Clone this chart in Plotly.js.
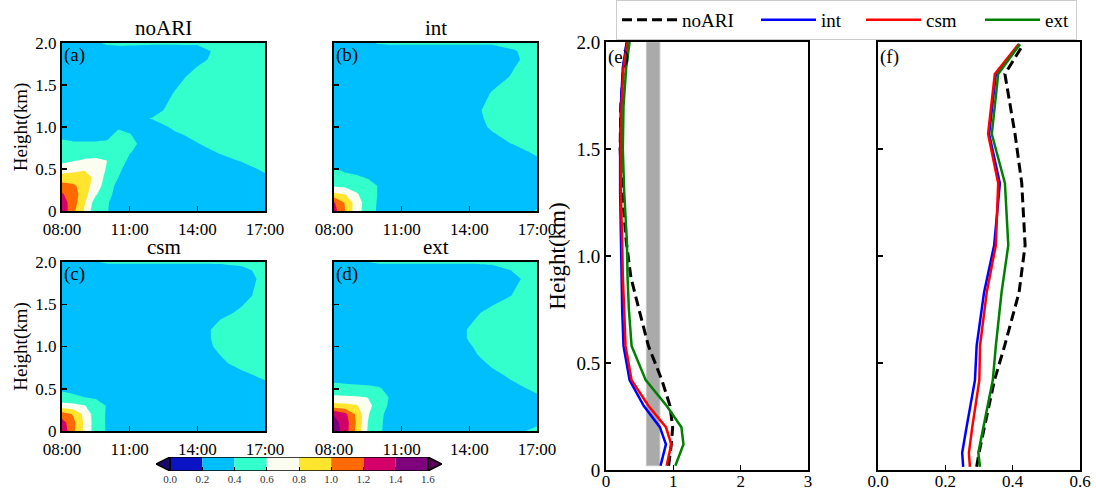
<!DOCTYPE html>
<html><head><meta charset="utf-8">
<script src="https://cdn.plot.ly/plotly-3.0.1.min.js"></script>
<style>html,body{margin:0;padding:0;background:#fff}#chart{width:1096px;height:493px}</style>
</head><body><div id="chart"></div>
<script>
// ---------- contour grids ----------
const timeHours = [8, 8.5, 9, 9.5, 10, 10.5, 11, 12, 13, 14, 15, 16, 17];
const heightKm = [0, 0.1, 0.2, 0.3, 0.4, 0.5, 0.6, 0.7, 0.8, 0.9, 1.0, 1.1, 1.2, 1.4, 1.6, 1.8, 1.9, 2.0];
const timeTickVals = [8, 11, 14, 17];
const timeTickText = ['08:00', '11:00', '14:00', '17:00'];
const heightTickVals = [0, 0.5, 1, 1.5, 2];
const heightTickText = ['0', '0.5', '1.0', '1.5', '2.0'];

const levels = [0, 0.2, 0.4, 0.6, 0.8, 1.0, 1.2, 1.4, 1.6];
const levelColors = ['#1b0a6e', '#0a14c4', '#00bfff', '#33ffcc', '#fbfdf0', '#ffe52e', '#ff6a00', '#d4006a', '#7e007e', '#5a005a'];

const zNoARI = [
  [1.35, 1.05, 0.78, 0.44, 0.41, 0.30, 0.28, 0.27, 0.27, 0.28, 0.30, 0.32, 0.34],
  [1.30, 1.10, 0.82, 0.50, 0.42, 0.30, 0.28, 0.27, 0.27, 0.28, 0.30, 0.33, 0.35],
  [1.22, 1.10, 0.88, 0.62, 0.46, 0.33, 0.29, 0.27, 0.28, 0.29, 0.31, 0.34, 0.36],
  [1.08, 1.04, 0.90, 0.70, 0.50, 0.34, 0.30, 0.28, 0.28, 0.29, 0.32, 0.35, 0.37],
  [0.88, 0.88, 0.87, 0.76, 0.52, 0.40, 0.31, 0.28, 0.29, 0.30, 0.33, 0.36, 0.38],
  [0.70, 0.74, 0.78, 0.72, 0.58, 0.44, 0.32, 0.29, 0.29, 0.31, 0.34, 0.36, 0.42],
  [0.55, 0.59, 0.62, 0.63, 0.60, 0.50, 0.36, 0.30, 0.30, 0.32, 0.36, 0.41, 0.46],
  [0.48, 0.50, 0.52, 0.53, 0.52, 0.48, 0.41, 0.30, 0.30, 0.35, 0.41, 0.46, 0.50],
  [0.44, 0.42, 0.42, 0.42, 0.43, 0.46, 0.45, 0.30, 0.32, 0.39, 0.50, 0.52, 0.55],
  [0.36, 0.35, 0.35, 0.35, 0.36, 0.45, 0.41, 0.30, 0.36, 0.45, 0.50, 0.52, 0.55],
  [0.34, 0.34, 0.34, 0.34, 0.35, 0.38, 0.37, 0.30, 0.44, 0.50, 0.50, 0.52, 0.52],
  [0.33, 0.33, 0.33, 0.33, 0.34, 0.35, 0.33, 0.41, 0.50, 0.50, 0.50, 0.50, 0.50],
  [0.33, 0.33, 0.33, 0.33, 0.33, 0.33, 0.32, 0.33, 0.47, 0.50, 0.50, 0.50, 0.50],
  [0.32, 0.32, 0.32, 0.32, 0.32, 0.32, 0.31, 0.30, 0.41, 0.48, 0.50, 0.50, 0.50],
  [0.32, 0.32, 0.32, 0.32, 0.32, 0.32, 0.31, 0.30, 0.34, 0.46, 0.50, 0.50, 0.50],
  [0.33, 0.33, 0.33, 0.33, 0.33, 0.33, 0.32, 0.31, 0.32, 0.36, 0.45, 0.48, 0.50],
  [0.33, 0.33, 0.33, 0.33, 0.34, 0.34, 0.33, 0.32, 0.32, 0.34, 0.44, 0.48, 0.50],
  [0.34, 0.35, 0.36, 0.38, 0.42, 0.43, 0.43, 0.42, 0.42, 0.42, 0.45, 0.48, 0.50]
];
const zInt = [
  [1.28, 1.00, 0.68, 0.50, 0.36, 0.30, 0.28, 0.27, 0.28, 0.30, 0.33, 0.34, 0.41],
  [1.22, 0.98, 0.70, 0.50, 0.37, 0.30, 0.28, 0.27, 0.28, 0.30, 0.32, 0.34, 0.36],
  [0.85, 0.80, 0.62, 0.50, 0.38, 0.31, 0.29, 0.28, 0.28, 0.30, 0.32, 0.33, 0.35],
  [0.58, 0.55, 0.52, 0.45, 0.39, 0.31, 0.29, 0.28, 0.28, 0.29, 0.31, 0.32, 0.34],
  [0.47, 0.44, 0.42, 0.39, 0.35, 0.31, 0.29, 0.28, 0.28, 0.29, 0.30, 0.32, 0.34],
  [0.41, 0.37, 0.35, 0.33, 0.32, 0.30, 0.29, 0.28, 0.28, 0.29, 0.30, 0.32, 0.34],
  [0.35, 0.34, 0.33, 0.32, 0.31, 0.30, 0.29, 0.28, 0.28, 0.29, 0.31, 0.33, 0.37],
  [0.34, 0.33, 0.32, 0.31, 0.30, 0.30, 0.29, 0.28, 0.29, 0.30, 0.32, 0.34, 0.43],
  [0.33, 0.33, 0.32, 0.31, 0.30, 0.29, 0.29, 0.29, 0.30, 0.31, 0.34, 0.41, 0.47],
  [0.33, 0.32, 0.31, 0.30, 0.30, 0.29, 0.29, 0.29, 0.30, 0.33, 0.38, 0.45, 0.48],
  [0.32, 0.32, 0.31, 0.30, 0.29, 0.29, 0.29, 0.29, 0.30, 0.32, 0.42, 0.47, 0.48],
  [0.32, 0.31, 0.30, 0.30, 0.29, 0.29, 0.29, 0.29, 0.30, 0.33, 0.44, 0.47, 0.48],
  [0.32, 0.31, 0.30, 0.30, 0.29, 0.29, 0.29, 0.29, 0.30, 0.34, 0.45, 0.47, 0.48],
  [0.32, 0.31, 0.30, 0.29, 0.29, 0.29, 0.29, 0.29, 0.29, 0.30, 0.41, 0.46, 0.48],
  [0.32, 0.31, 0.30, 0.29, 0.29, 0.29, 0.29, 0.29, 0.29, 0.30, 0.33, 0.42, 0.46],
  [0.32, 0.31, 0.30, 0.30, 0.29, 0.29, 0.29, 0.29, 0.29, 0.30, 0.32, 0.38, 0.46],
  [0.33, 0.32, 0.32, 0.32, 0.32, 0.32, 0.32, 0.32, 0.32, 0.32, 0.33, 0.39, 0.46],
  [0.35, 0.36, 0.37, 0.38, 0.41, 0.42, 0.42, 0.42, 0.42, 0.42, 0.42, 0.44, 0.46]
];
const zCsm = [
  [1.35, 1.05, 0.75, 0.50, 0.38, 0.30, 0.28, 0.27, 0.27, 0.28, 0.30, 0.32, 0.34],
  [1.28, 1.06, 0.76, 0.50, 0.38, 0.30, 0.28, 0.27, 0.27, 0.28, 0.30, 0.32, 0.34],
  [1.10, 0.98, 0.74, 0.50, 0.38, 0.30, 0.28, 0.27, 0.27, 0.28, 0.30, 0.32, 0.35],
  [0.68, 0.66, 0.61, 0.48, 0.39, 0.31, 0.29, 0.28, 0.28, 0.29, 0.31, 0.33, 0.36],
  [0.46, 0.43, 0.40, 0.38, 0.34, 0.31, 0.29, 0.28, 0.28, 0.29, 0.31, 0.33, 0.37],
  [0.37, 0.35, 0.34, 0.33, 0.32, 0.30, 0.29, 0.28, 0.28, 0.29, 0.31, 0.34, 0.38],
  [0.34, 0.33, 0.32, 0.31, 0.30, 0.30, 0.29, 0.28, 0.28, 0.30, 0.32, 0.36, 0.40],
  [0.33, 0.32, 0.31, 0.30, 0.30, 0.29, 0.29, 0.29, 0.29, 0.30, 0.34, 0.39, 0.46],
  [0.32, 0.32, 0.31, 0.30, 0.29, 0.29, 0.29, 0.29, 0.29, 0.31, 0.37, 0.45, 0.48],
  [0.32, 0.31, 0.30, 0.30, 0.29, 0.29, 0.29, 0.29, 0.30, 0.32, 0.40, 0.46, 0.48],
  [0.32, 0.31, 0.30, 0.29, 0.29, 0.29, 0.29, 0.29, 0.30, 0.33, 0.43, 0.47, 0.48],
  [0.31, 0.31, 0.30, 0.29, 0.29, 0.29, 0.29, 0.29, 0.30, 0.34, 0.44, 0.47, 0.48],
  [0.31, 0.31, 0.30, 0.29, 0.29, 0.29, 0.29, 0.29, 0.30, 0.34, 0.44, 0.47, 0.48],
  [0.31, 0.30, 0.30, 0.29, 0.29, 0.29, 0.29, 0.29, 0.29, 0.31, 0.37, 0.42, 0.46],
  [0.31, 0.30, 0.30, 0.29, 0.29, 0.29, 0.29, 0.29, 0.29, 0.30, 0.33, 0.37, 0.44],
  [0.31, 0.30, 0.30, 0.29, 0.29, 0.29, 0.29, 0.29, 0.29, 0.30, 0.32, 0.35, 0.43],
  [0.32, 0.31, 0.31, 0.31, 0.32, 0.32, 0.32, 0.32, 0.32, 0.32, 0.33, 0.37, 0.44],
  [0.34, 0.36, 0.38, 0.39, 0.42, 0.42, 0.42, 0.42, 0.42, 0.42, 0.42, 0.43, 0.45]
];
const zExt = [
  [1.52, 1.30, 0.95, 0.58, 0.43, 0.32, 0.29, 0.28, 0.28, 0.29, 0.31, 0.36, 0.44],
  [1.48, 1.30, 0.98, 0.60, 0.44, 0.32, 0.29, 0.28, 0.28, 0.29, 0.31, 0.34, 0.37],
  [1.38, 1.25, 0.96, 0.62, 0.45, 0.33, 0.30, 0.28, 0.28, 0.29, 0.31, 0.33, 0.35],
  [0.87, 0.86, 0.82, 0.66, 0.50, 0.36, 0.30, 0.28, 0.28, 0.29, 0.31, 0.33, 0.35],
  [0.64, 0.63, 0.62, 0.595, 0.50, 0.38, 0.31, 0.28, 0.28, 0.29, 0.31, 0.33, 0.38],
  [0.47, 0.46, 0.45, 0.44, 0.42, 0.34, 0.30, 0.28, 0.28, 0.29, 0.31, 0.36, 0.43],
  [0.37, 0.36, 0.35, 0.34, 0.32, 0.31, 0.30, 0.29, 0.29, 0.30, 0.33, 0.41, 0.46],
  [0.34, 0.33, 0.32, 0.31, 0.31, 0.30, 0.30, 0.29, 0.29, 0.31, 0.38, 0.45, 0.48],
  [0.33, 0.32, 0.31, 0.31, 0.30, 0.30, 0.29, 0.29, 0.30, 0.33, 0.42, 0.47, 0.48],
  [0.32, 0.32, 0.31, 0.30, 0.30, 0.29, 0.29, 0.29, 0.31, 0.37, 0.45, 0.48, 0.49],
  [0.32, 0.31, 0.31, 0.30, 0.30, 0.29, 0.29, 0.29, 0.31, 0.39, 0.46, 0.48, 0.50],
  [0.32, 0.31, 0.30, 0.30, 0.29, 0.29, 0.29, 0.29, 0.32, 0.41, 0.46, 0.48, 0.52],
  [0.32, 0.31, 0.30, 0.30, 0.29, 0.29, 0.29, 0.29, 0.32, 0.41, 0.46, 0.48, 0.55],
  [0.31, 0.31, 0.30, 0.29, 0.29, 0.29, 0.29, 0.29, 0.29, 0.36, 0.44, 0.47, 0.55],
  [0.31, 0.30, 0.30, 0.29, 0.29, 0.29, 0.29, 0.29, 0.29, 0.30, 0.34, 0.41, 0.46],
  [0.31, 0.30, 0.30, 0.29, 0.29, 0.29, 0.29, 0.29, 0.29, 0.30, 0.32, 0.38, 0.45],
  [0.32, 0.31, 0.31, 0.31, 0.32, 0.32, 0.32, 0.32, 0.32, 0.32, 0.34, 0.41, 0.45],
  [0.34, 0.36, 0.38, 0.40, 0.42, 0.42, 0.42, 0.42, 0.42, 0.42, 0.43, 0.44, 0.45]
];
const panelTitles = ['noARI', 'int', 'csm', 'ext'];
const panelLetters = ['(a)', '(b)', '(c)', '(d)', '(e)', '(f)'];

// ---------- profile (e) ----------
const heightE = [0.02, 0.12, 0.2, 0.3, 0.42, 0.58, 0.75, 0.9, 1.07, 1.3, 1.5, 1.7, 1.88, 2.0];
const eNoARI = [0.93, 0.97, 0.99, 0.95, 0.83, 0.63, 0.49, 0.37, 0.30, 0.24, 0.21, 0.22, 0.26, 0.31];
const eInt   = [0.81, 0.89, 0.80, 0.56, 0.35, 0.26, 0.24, 0.23, 0.22, 0.21, 0.21, 0.22, 0.25, 0.31];
const eCsm   = [0.90, 0.97, 0.89, 0.63, 0.38, 0.29, 0.27, 0.25, 0.24, 0.22, 0.22, 0.23, 0.26, 0.32];
const eExt   = [1.03, 1.15, 1.12, 0.90, 0.59, 0.38, 0.34, 0.32, 0.31, 0.27, 0.25, 0.26, 0.30, 0.35];
const obsRange = [0.6, 0.8];
const obsHeights = [0.02, 2.0];

// ---------- profile (f) ----------
const heightF = [0.015, 0.08, 0.2, 0.42, 0.58, 0.83, 1.05, 1.34, 1.57, 1.85, 1.99];
const fNoARI = [0.293, 0.300, 0.316, 0.346, 0.376, 0.419, 0.437, 0.427, 0.407, 0.377, 0.432];
const fInt   = [0.253, 0.250, 0.263, 0.288, 0.293, 0.315, 0.345, 0.362, 0.330, 0.350, 0.420];
const fCsm   = [0.273, 0.270, 0.280, 0.301, 0.303, 0.323, 0.350, 0.357, 0.327, 0.347, 0.418];
const fExt   = [0.303, 0.298, 0.313, 0.341, 0.350, 0.367, 0.387, 0.377, 0.338, 0.357, 0.422];

const seriesNames = ['noARI', 'int', 'csm', 'ext'];
const seriesColors = ['#000000', '#0000ff', '#ff0000', '#008000'];
const legendWidths = [69, 35, 49, 26];

// ---------- build ----------
const FONT = 'Liberation Serif, Times New Roman, serif';
const W = 1096, H = 493;
const px = (a, b) => [a / W, b / W];
const py = (top, bottom) => [1 - bottom / H, 1 - top / H];

const colorscale = levelColors.map((c, i) => [i / (levelColors.length - 1), c]);
const grids = [zNoARI, zInt, zCsm, zExt];
const traces = [];
grids.forEach((z, i) => {
  const n = i === 0 ? '' : String(i + 1);
  traces.push({
    type: 'contour', x: timeHours, y: heightKm, z: z,
    xaxis: 'x' + n, yaxis: 'y' + n,
    autocontour: false,
    contours: {start: levels[0], end: levels[levels.length - 1], size: levels[1] - levels[0], coloring: 'fill', showlines: false},
    line: {width: 0, smoothing: 0},
    colorscale: colorscale, showscale: false, hoverinfo: 'skip'
  });
});
const eSeries = [eNoARI, eInt, eCsm, eExt];
const fSeries = [fNoARI, fInt, fCsm, fExt];
eSeries.forEach((v, i) => traces.push({
  type: 'scatter', mode: 'lines', x: v, y: heightE, xaxis: 'x5', yaxis: 'y5',
  name: seriesNames[i], legendrank: i + 1, legendwidth: legendWidths[i],
  line: {color: seriesColors[i], width: i === 0 ? 3 : 2.5, dash: i === 0 ? '10px,5px' : 'solid'},
  hoverinfo: 'skip'
}));
fSeries.forEach((v, i) => traces.push({
  type: 'scatter', mode: 'lines', x: v, y: heightF, xaxis: 'x6', yaxis: 'y6',
  name: seriesNames[i], showlegend: false,
  line: {color: seriesColors[i], width: i === 0 ? 3 : 2.5, dash: i === 0 ? '10px,5px' : 'solid'},
  hoverinfo: 'skip'
}));

// colorbar drawn as bars on its own axis
const ext = 0.0875;
const lo = levels[0], hi = levels[levels.length - 1];
const bandCenters = levels.slice(0, -1).map((v, i) => (v + levels[i + 1]) / 2);
const bandWidths = levels.slice(0, -1).map((v, i) => levels[i + 1] - v);
traces.push({
  type: 'bar', x: bandCenters, y: bandCenters.map(() => 1), base: 0, width: bandWidths,
  marker: {color: levelColors.slice(1, -1), line: {width: 0}},
  xaxis: 'x7', yaxis: 'y7', showlegend: false, hoverinfo: 'skip'
});
traces.push({
  type: 'scatter', mode: 'lines', x: [lo, lo, lo - ext, lo], y: [0, 1, 0.5, 0], fill: 'toself',
  fillcolor: levelColors[0], line: {color: '#000', width: 1.5},
  xaxis: 'x7', yaxis: 'y7', showlegend: false, hoverinfo: 'skip'
});
traces.push({
  type: 'scatter', mode: 'lines', x: [hi, hi, hi + ext, hi], y: [0, 1, 0.5, 0], fill: 'toself',
  fillcolor: levelColors[levelColors.length - 1], line: {color: '#000', width: 1.5},
  xaxis: 'x7', yaxis: 'y7', showlegend: false, hoverinfo: 'skip'
});
traces.push({
  type: 'scatter', mode: 'lines', x: [lo, hi, hi, lo, lo], y: [0, 0, 1, 1, 0],
  line: {color: '#000', width: 1.5}, xaxis: 'x7', yaxis: 'y7', showlegend: false, hoverinfo: 'skip'
});

const frame = {showline: true, mirror: true, linecolor: '#000', linewidth: 2, showgrid: false, zeroline: false,
  ticks: 'inside', ticklen: 5, tickwidth: 1.5, tickcolor: '#000'};
const contourDomX = [px(62, 265), px(334, 537), px(62, 265), px(334, 537)];
const contourDomY = [py(43, 211), py(43, 211), py(262, 431), py(262, 431)];

const layout = {
  width: W, height: H, margin: {l: 0, r: 0, t: 0, b: 0},
  paper_bgcolor: '#fff', plot_bgcolor: '#fff',
  font: {family: FONT, color: '#000'},
  showlegend: true,
  legend: {orientation: 'h', x: 616 / W, y: 1 - 20 / H, xanchor: 'left', yanchor: 'middle',
    font: {size: 19, family: FONT}, bordercolor: '#cccccc', borderwidth: 1, bgcolor: '#fff',
    itemwidth: 55, traceorder: 'normal'},
  annotations: [], shapes: []
};
for (let i = 0; i < 4; i++) {
  const n = i === 0 ? '' : String(i + 1);
  layout['xaxis' + n] = Object.assign({}, frame, {
    domain: contourDomX[i], anchor: 'y' + n, range: [timeHours[0], timeHours[timeHours.length - 1]],
    tickvals: timeTickVals, ticktext: timeTickText, tickfont: {size: 17}, ticklabelstandoff: 2
  });
  layout['yaxis' + n] = Object.assign({}, frame, {
    domain: contourDomY[i], anchor: 'x' + n, range: [0, 2],
    tickvals: heightTickVals, ticktext: heightTickText, tickfont: {size: 17},
    showticklabels: i % 2 === 0,
    title: i % 2 === 0 ? {text: 'Height(km)', font: {size: 19}, standoff: 3} : undefined
  });
  layout.annotations.push({text: panelTitles[i], xref: 'x' + n + ' domain', yref: 'y' + n + ' domain',
    x: 0.5, y: 1, xanchor: 'center', yanchor: 'bottom', yshift: 1, showarrow: false, font: {size: 21}});
  layout.annotations.push({text: panelLetters[i], xref: 'x' + n + ' domain', yref: 'y' + n + ' domain',
    x: 0.0, y: 1, xanchor: 'left', yanchor: 'top', xshift: 0, yshift: 1, showarrow: false, font: {size: 19}});
}
layout.xaxis5 = Object.assign({}, frame, {domain: px(606, 808), anchor: 'y5', range: [0, 3],
  tickvals: [0, 1, 2, 3], ticktext: ['0', '1', '2', '3'], tickfont: {size: 17}, ticklabelstandoff: -5});
layout.yaxis5 = Object.assign({}, frame, {domain: py(42, 470), anchor: 'x5', range: [0, 2],
  tickvals: heightTickVals, ticktext: heightTickText, tickfont: {size: 19},
  title: {text: 'Height(km)', font: {size: 23}, standoff: 4}});
layout.xaxis6 = Object.assign({}, frame, {domain: px(878, 1080), anchor: 'y6', range: [0, 0.6],
  tickvals: [0, 0.2, 0.4, 0.6], ticktext: ['0.0', '0.2', '0.4', '0.6'], tickfont: {size: 17}, ticklabelstandoff: -5});
layout.yaxis6 = Object.assign({}, frame, {domain: py(42, 470), anchor: 'x6', range: [0, 2],
  tickvals: heightTickVals, showticklabels: false});
['5', '6'].forEach((n, k) => layout.annotations.push({text: panelLetters[4 + k], xref: 'x' + n + ' domain', yref: 'y' + n + ' domain',
  x: 0.0, y: 1, xanchor: 'left', yanchor: 'top', yshift: -2, showarrow: false, font: {size: 19}}));
layout.xaxis7 = {domain: px(156, 442), anchor: 'y7', range: [lo - ext, hi + ext], showgrid: false, zeroline: false,
  showline: false, tickvals: levels, ticktext: levels.map(v => v.toFixed(1)), ticks: 'inside', ticklen: 4,
  tickcolor: '#000', tickwidth: 1, tickfont: {size: 11, color: '#333'}};
layout.yaxis7 = {domain: py(457, 471), anchor: 'x7', range: [0, 1], showgrid: false, zeroline: false,
  showline: false, showticklabels: false, ticks: ''};
layout.shapes.push({type: 'rect', xref: 'x5', yref: 'y5', x0: obsRange[0], x1: obsRange[1],
  y0: obsHeights[0], y1: obsHeights[1], fillcolor: '#aaaaaa', line: {color: '#c4c4c4', width: 1}, layer: 'below'});

Plotly.newPlot('chart', traces, layout, {staticPlot: true});
</script></body></html>
